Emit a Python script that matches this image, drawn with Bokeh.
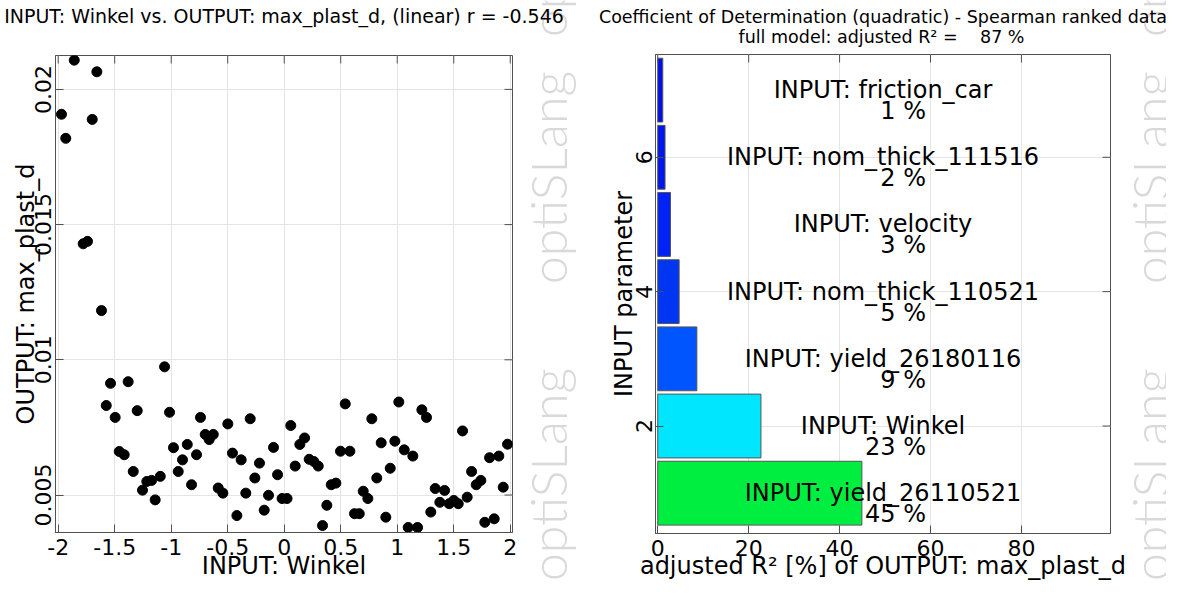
import numpy as np
from bokeh.plotting import figure
from bokeh.layouts import row, column
from bokeh.models import FixedTicker, Label, Range1d, NumeralTickFormatter, ColumnDataSource
from bokeh.core.properties import value
from bokeh.embed import file_html
from bokeh.resources import INLINE

# ---------------- data ----------------
winkel = [-1.858, -1.658, -1.971, -1.699, -1.933, -1.741, -1.779, -1.617, -1.059, -1.537,
          -1.381, -1.575, -1.496, -1.301, -1.015, -0.741, -0.499, -0.301, 0.058, -0.699,
          -0.628, -0.664, -0.980, -0.858, -1.460, -1.416, -0.776, -0.458, -0.381, -0.900,
          -0.095, -0.219, -1.336, -0.938, -0.260, -0.059, -1.216, -1.174, -1.097, -0.820,
          -1.254, -0.584, -0.543, -0.340, -0.139, -1.142, -0.019, 0.025, -0.419, -0.177,
          0.138, 0.180, 0.097, 0.221, 0.262, 0.301, 0.540, 0.498, 0.581, 0.416,
          0.457, 0.377, 0.339, 0.622, 0.664, 0.699, 0.740, 0.775, 0.858, 0.819,
          0.899, 0.938, 0.979, 1.014, 1.062, 1.138, 1.097, 1.180, 1.218, 1.259,
          1.297, 1.336, 1.377, 1.419, 1.460, 1.501, 1.540, 1.578, 1.619, 1.658,
          1.699, 1.740, 1.775, 1.817, 1.858, 1.899, 1.938, 1.976]
max_plast_d = [0.02108, 0.02065, 0.01908, 0.01889, 0.01819, 0.01438, 0.01429, 0.01182, 0.00974, 0.00913,
               0.00919, 0.00831, 0.00787, 0.00812, 0.00806, 0.00787, 0.00763, 0.00782, 0.00757, 0.00724,
               0.00724, 0.00705, 0.00675, 0.00687, 0.00661, 0.00649, 0.00649, 0.00655, 0.00630, 0.00630,
               0.00676, 0.00618, 0.00587, 0.00587, 0.00563, 0.00575, 0.00550, 0.00554, 0.00569, 0.00538,
               0.00518, 0.00526, 0.00507, 0.00507, 0.00499, 0.00482, 0.00487, 0.00487, 0.00424, 0.00444,
               0.00687, 0.00711, 0.00607, 0.00632, 0.00624, 0.00607, 0.00837, 0.00662, 0.00662, 0.00538,
               0.00544, 0.00462, 0.00387, 0.00431, 0.00431, 0.00514, 0.00487, 0.00782, 0.00693, 0.00563,
               0.00418, 0.00599, 0.00699, 0.00844, 0.00667, 0.00644, 0.00380, 0.00380, 0.00815, 0.00787,
               0.00437, 0.00524, 0.00473, 0.00517, 0.00468, 0.00480, 0.00468, 0.00737, 0.00492, 0.00587,
               0.00538, 0.00554, 0.00399, 0.00638, 0.00412, 0.00644, 0.00529, 0.00688]

params = ["INPUT: yield_26110521", "INPUT: Winkel", "INPUT: yield_26180116",
          "INPUT: nom_thick_110521", "INPUT: velocity", "INPUT: nom_thick_111516",
          "INPUT: friction_car"]
r2_adjusted = [44.9, 22.7, 8.6, 4.7, 2.8, 1.6, 1.1]
bar_colors = ["#00EE40", "#00E6FF", "#0055FF", "#0036F2", "#0022F5", "#0016EE", "#0010E8"]
full_model_r2 = 87

left_title = "INPUT: Winkel vs. OUTPUT: max_plast_d, (linear) r = -0.546"
right_title = "Coefficient of Determination (quadratic) - Spearman ranked data"
right_subtitle = "full model: adjusted R\u00b2 ="
left_xlabel = "INPUT: Winkel"
left_ylabel = "OUTPUT: max_plast_d"
right_xlabel = "adjusted R\u00b2 [%] of OUTPUT: max_plast_d"
right_ylabel = "INPUT parameter"
watermark = "optiSLang"

x_ticks_left = [-2, -1.5, -1, -0.5, 0, 0.5, 1, 1.5, 2]
y_ticks_left = [0.005, 0.01, 0.015, 0.02]
x_ticks_right = [0, 20, 40, 60, 80]
y_ticks_right = [2, 4, 6]

# ---------------- style ----------------
FONT = "DejaVu Sans"
AXC = "#505050"
GRIDC = "#e4e4e4"
WMC = "#d9d9d9"
WM_FONT = "'Lato Light', Lato"
WM_SIZE = "50px"


def no_align(f):
    if "frame_align" in f.properties():
        f.frame_align = False
    return f


def style_axis(ax, ticks):
    ax.ticker = FixedTicker(ticks=ticks)
    ax.major_tick_in = 8
    ax.major_tick_out = 0
    ax.minor_tick_line_color = None
    ax.axis_line_color = AXC
    ax.major_tick_line_color = AXC
    ax.major_label_text_font = FONT
    ax.major_label_text_font_size = "22px"
    ax.major_label_text_color = "black"
    ax.axis_label_text_font = FONT
    ax.axis_label_text_font_size = "24px"
    ax.axis_label_text_font_style = "normal"
    ax.axis_label_text_color = "black"


def box_ticks(p, xticks, yticks):
    # inward tick marks on the top and right edges of the frame
    n, m = len(xticks), len(yticks)
    p.scatter(xticks, [p.y_range.end] * n, marker="dash", size=16, angle=np.pi / 2,
              line_color=AXC, line_width=1)
    p.scatter([p.x_range.end] * m, yticks, marker="dash", size=16, angle=0,
              line_color=AXC, line_width=1)


def blank_fig(width, height):
    f = figure(width=width, height=height, x_range=Range1d(0, 1), y_range=Range1d(0, 1),
               x_axis_type=None, y_axis_type=None, min_border=0,
               output_backend="svg", toolbar_location=None)
    f.outline_line_color = None
    f.xgrid.visible = False
    f.ygrid.visible = False
    return no_align(f)


def wm_label(x, y):
    # centre-anchored, rotated to read bottom-to-top
    return Label(x=x, y=y, x_units="screen", y_units="screen", text=watermark,
                 angle=np.pi / 2, text_align="center", text_baseline="middle",
                 text_font=WM_FONT, text_font_size=WM_SIZE, text_color=WMC)


# ---------------- title strip ----------------
strip = blank_fig(1166, 50)
strip.add_layout(wm_label(547, 120))
strip.add_layout(wm_label(1149, 120))
strip.add_layout(Label(x=283.5, y=35, x_units="screen", y_units="screen", text=left_title,
                       text_align="center", text_baseline="alphabetic",
                       text_font=FONT, text_font_size="19px", text_color="black"))
strip.add_layout(Label(x=882.5, y=34, x_units="screen", y_units="screen", text=right_title,
                       text_align="center", text_baseline="alphabetic",
                       text_font=FONT, text_font_size="17.5px", text_color="black"))
strip.add_layout(Label(x=738, y=14, x_units="screen", y_units="screen", text=right_subtitle,
                       text_align="left", text_baseline="alphabetic",
                       text_font=FONT, text_font_size="17.5px", text_color="black"))
strip.add_layout(Label(x=1024, y=14, x_units="screen", y_units="screen",
                       text=f"{full_model_r2} %", text_align="right", text_baseline="alphabetic",
                       text_font=FONT, text_font_size="17.5px", text_color="black"))

# ---------------- left: scatter ----------------
p1 = figure(width=524, height=532, x_range=Range1d(-2.024, 2.02),
            y_range=Range1d(0.003614, 0.021253),
            output_backend="svg", toolbar_location=None,
            min_border_left=55, min_border_right=12, min_border_top=5, min_border_bottom=48)
no_align(p1)
p1.outline_line_color = AXC

p1.scatter(winkel, max_plast_d, size=10, color="black")
box_ticks(p1, x_ticks_left, y_ticks_left)

style_axis(p1.xaxis[0], x_ticks_left)
p1.xaxis[0].formatter = NumeralTickFormatter(format="0.[0]")
p1.xaxis[0].axis_label = left_xlabel
p1.xaxis[0].major_label_standoff = 6
p1.xaxis[0].axis_label_standoff = -6

style_axis(p1.yaxis[0], y_ticks_left)
p1.yaxis[0].formatter = NumeralTickFormatter(format="0.[000]")
p1.yaxis[0].major_label_orientation = "vertical"
p1.yaxis[0].axis_label = left_ylabel
p1.yaxis[0].major_label_standoff = 4
p1.yaxis[0].axis_label_standoff = -7

p1.xgrid.ticker = FixedTicker(ticks=x_ticks_left)
p1.ygrid.ticker = FixedTicker(ticks=y_ticks_left)
p1.xgrid.grid_line_color = GRIDC
p1.ygrid.grid_line_color = GRIDC

wm1 = blank_fig(66, 532)
wm1.add_layout(wm_label(23, 108))
wm1.add_layout(wm_label(23, 405))

# ---------------- right: bars ----------------
xr = Range1d(-0.5, 99.6)
p2 = figure(width=542, height=532, x_range=xr, y_range=Range1d(0.4, 7.53),
            output_backend="svg", toolbar_location=None,
            min_border_left=65, min_border_right=22, min_border_top=4, min_border_bottom=47)
no_align(p2)
p2.outline_line_color = AXC

positions = list(range(1, len(params) + 1))
center = (xr.start + xr.end) / 2
src = ColumnDataSource(dict(
    y=positions, right=r2_adjusted, color=bar_colors, name=params,
    pct=[f"{round(v):d} %" for v in r2_adjusted], cx=[center] * len(params)))
p2.hbar(y="y", left=0, right="right", height=0.95, fill_color="color",
        line_color="#555555", line_width=1, source=src)
p2.text(x="cx", y="y", text="name", source=src, text_align="center",
        text_baseline="alphabetic", text_font=value(FONT), text_font_size="24px",
        text_color="black")
p2.text(x="cx", y="y", text="pct", source=src, text_align="right",
        text_baseline="alphabetic", x_offset=43, y_offset=21,
        text_font=value(FONT), text_font_size="24px", text_color="black")
box_ticks(p2, x_ticks_right, y_ticks_right)

style_axis(p2.xaxis[0], x_ticks_right)
p2.xaxis[0].axis_label = right_xlabel
p2.xaxis[0].major_label_standoff = 6
p2.xaxis[0].axis_label_standoff = -7

style_axis(p2.yaxis[0], y_ticks_right)
p2.yaxis[0].major_label_orientation = "vertical"
p2.yaxis[0].axis_label = right_ylabel
p2.yaxis[0].major_label_standoff = 3
p2.yaxis[0].axis_label_standoff = -4

p2.xgrid.ticker = FixedTicker(ticks=x_ticks_right)
p2.ygrid.ticker = FixedTicker(ticks=y_ticks_right)
p2.xgrid.grid_line_color = GRIDC
p2.ygrid.grid_line_color = GRIDC

wm2 = blank_fig(34, 532)
wm2.add_layout(wm_label(17, 108))
wm2.add_layout(wm_label(17, 405))

layout = column(strip, row(p1, wm1, p2, wm2, spacing=0), spacing=0)
open("out.html", "w").write(file_html(layout, INLINE))
